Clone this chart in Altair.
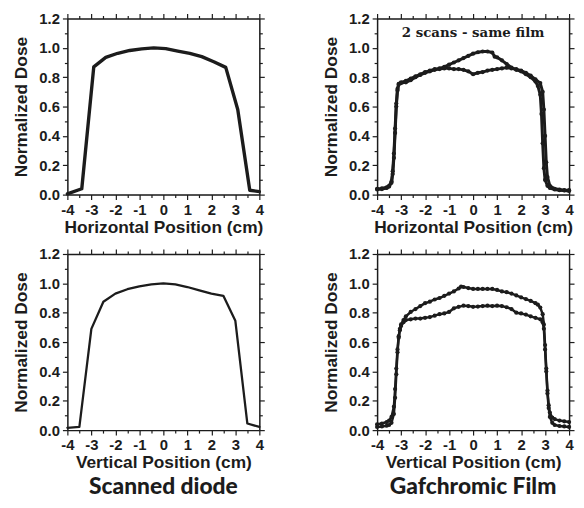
import altair as alt
import pandas as pd

INK = "#1c1c1c"
FONT = "Liberation Sans"

# ---- Scanned diode ----
diode_h_x = [-4.0, -3.4, -2.9, -2.4, -1.9, -1.4, -0.9, -0.4, 0.1, 0.6, 1.1, 1.6, 2.1, 2.6, 3.1, 3.6, 4.0]
diode_h_y = [0.005, 0.04, 0.87, 0.935, 0.963, 0.982, 0.993, 1.0, 0.995, 0.978, 0.962, 0.94, 0.905, 0.867, 0.58, 0.03, 0.02]

diode_v_x = [-4.0, -3.5, -3.0, -2.5, -2.0, -1.5, -1.0, -0.5, 0.0, 0.5, 1.0, 1.5, 2.0, 2.5, 3.0, 3.5, 4.0]
diode_v_y = [0.016, 0.022, 0.69, 0.875, 0.93, 0.96, 0.98, 0.993, 1.0, 0.993, 0.975, 0.952, 0.93, 0.915, 0.745, 0.045, 0.022]

# ---- Gafchromic film, horizontal (2 scans) ----
film_h1_x = [-4.0, -3.8, -3.6, -3.5, -3.4, -3.35, -3.3, -3.25, -3.2, -3.15, -3.1, -3.0, -2.8, -2.6, -2.4,
             -2.2, -2.0, -1.8, -1.6, -1.4, -1.2, -1.0, -0.8, -0.6, -0.4, -0.2, 0.0, 0.2, 0.4, 0.6,
             0.8, 0.9, 1.0, 1.2, 1.4, 1.6, 1.8, 2.0, 2.2, 2.4, 2.6, 2.7, 2.8, 2.85, 2.9,
             2.95, 3.0, 3.1, 3.2, 3.4, 3.6, 3.8, 4.0]
film_h1_y = [0.04, 0.042, 0.05, 0.06, 0.09, 0.16, 0.28, 0.45, 0.62, 0.72, 0.755, 0.765, 0.775, 0.79, 0.805,
             0.82, 0.835, 0.845, 0.855, 0.86, 0.87, 0.885, 0.90, 0.915, 0.93, 0.945, 0.96, 0.97, 0.975, 0.975,
             0.968, 0.94, 0.935, 0.915, 0.89, 0.865, 0.85, 0.84, 0.82, 0.80, 0.77, 0.74, 0.68, 0.55, 0.35,
             0.18, 0.10, 0.06, 0.045, 0.035, 0.03, 0.028, 0.025]

film_h2_x = [-4.0, -3.8, -3.6, -3.5, -3.4, -3.35, -3.3, -3.25, -3.2, -3.15, -3.1, -3.0, -2.8, -2.6, -2.4,
             -2.2, -2.0, -1.8, -1.6, -1.4, -1.2, -1.0, -0.8, -0.6, -0.4, -0.2, 0.0, 0.2, 0.4, 0.6,
             0.8, 1.0, 1.2, 1.4, 1.6, 1.8, 2.0, 2.2, 2.4, 2.6, 2.8, 2.9, 2.95, 3.0, 3.05,
             3.1, 3.2, 3.4, 3.6, 3.8, 4.0]
film_h2_y = [0.035, 0.038, 0.045, 0.055, 0.08, 0.14, 0.25, 0.42, 0.60, 0.71, 0.75, 0.76, 0.765, 0.78, 0.80,
             0.815, 0.83, 0.84, 0.85, 0.855, 0.86, 0.86, 0.855, 0.855, 0.85, 0.84, 0.82, 0.83, 0.835, 0.845,
             0.85, 0.855, 0.86, 0.865, 0.86, 0.855, 0.845, 0.83, 0.81, 0.785, 0.76, 0.70, 0.58, 0.40, 0.22,
             0.12, 0.06, 0.04, 0.035, 0.03, 0.03]

# ---- Gafchromic film, vertical (2 scans) ----
film_v1_x = [-4.0, -3.8, -3.6, -3.5, -3.4, -3.3, -3.25, -3.2, -3.15, -3.1, -3.05, -3.0, -2.9, -2.8, -2.6,
             -2.4, -2.2, -2.0, -1.8, -1.6, -1.4, -1.2, -1.0, -0.8, -0.6, -0.5, -0.4, -0.2, 0.0, 0.2,
             0.4, 0.6, 0.8, 1.0, 1.2, 1.4, 1.6, 1.8, 2.0, 2.2, 2.4, 2.6, 2.7, 2.8, 2.9,
             2.95, 3.0, 3.05, 3.1, 3.15, 3.2, 3.3, 3.4, 3.6, 3.8, 4.0]
film_v1_y = [0.04, 0.045, 0.055, 0.065, 0.09, 0.16, 0.28, 0.42, 0.55, 0.64, 0.69, 0.72, 0.75, 0.775, 0.805,
             0.825, 0.845, 0.865, 0.875, 0.89, 0.90, 0.915, 0.93, 0.945, 0.965, 0.978, 0.975, 0.968, 0.962, 0.962,
             0.962, 0.962, 0.962, 0.955, 0.945, 0.94, 0.93, 0.918, 0.905, 0.893, 0.88, 0.865, 0.855, 0.835, 0.79,
             0.72, 0.58, 0.42, 0.27, 0.17, 0.12, 0.085, 0.075, 0.065, 0.06, 0.055]

film_v2_x = [-4.0, -3.8, -3.6, -3.5, -3.4, -3.3, -3.25, -3.2, -3.15, -3.1, -3.05, -3.0, -2.9, -2.8, -2.6,
             -2.4, -2.2, -2.0, -1.8, -1.6, -1.4, -1.2, -1.0, -0.8, -0.6, -0.4, -0.2, 0.0, 0.2, 0.4,
             0.6, 0.8, 1.0, 1.2, 1.4, 1.6, 1.8, 2.0, 2.2, 2.4, 2.6, 2.8, 2.9, 2.95, 3.0,
             3.05, 3.1, 3.15, 3.2, 3.3, 3.4, 3.6, 3.8, 4.0]
film_v2_y = [0.022, 0.025, 0.03, 0.035, 0.05, 0.11, 0.22, 0.38, 0.53, 0.63, 0.68, 0.71, 0.735, 0.75, 0.755,
             0.76, 0.76, 0.765, 0.77, 0.78, 0.79, 0.795, 0.805, 0.83, 0.84, 0.848, 0.845, 0.84, 0.842, 0.845,
             0.848, 0.845, 0.848, 0.845, 0.837, 0.825, 0.80, 0.795, 0.787, 0.775, 0.765, 0.755, 0.735, 0.69, 0.55,
             0.40, 0.25, 0.15, 0.09, 0.05, 0.035, 0.028, 0.025, 0.022]

# ---- axes / labels ----
x_ticks = [-4, -3.5, -3, -2.5, -2, -1.5, -1, -0.5, 0, 0.5, 1, 1.5, 2, 2.5, 3, 3.5, 4]
y_ticks = [0.0, 0.1, 0.2, 0.3, 0.4, 0.5, 0.6, 0.7, 0.8, 0.9, 1.0, 1.1, 1.2]
x_domain = [-4, 4]
y_domain = [0, 1.2]
y_title = "Normalized Dose"
x_title_h = "Horizontal Position (cm)"
x_title_v = "Vertical Position (cm)"
note_text = ["2 scans - same film"]
note_x = [0]
note_y = [1.1]
col_titles = ["Scanned diode", "Gafchromic Film"]

X_MAJOR = "round(datum.value*2) % 2 === 0"
Y_MAJOR = "round(datum.value*10) % 2 === 0"

W, H = 194, 178

common = dict(
    grid=False, domainColor=INK, domainWidth=1.5, tickColor=INK, tickWidth=1.2,
    labelFont=FONT, labelFontWeight="bold", labelFontSize=15, labelColor=INK,
    titleFont=FONT, titleFontWeight="bold", titleFontSize=17.5, titleColor=INK,
    labelOverlap=False, labelFlush=False,
)


def xaxis_bottom(title):
    return alt.Axis(
        orient="bottom", values=x_ticks, title=title, titlePadding=1, labelPadding=3,
        tickSize={"condition": {"test": X_MAJOR, "value": 5}, "value": 3},
        labelExpr=f"{X_MAJOR} ? '' + datum.value : ''", **common)


def yaxis_left():
    return alt.Axis(
        orient="left", values=y_ticks, title=y_title, titlePadding=8, labelPadding=3,
        tickSize={"condition": {"test": Y_MAJOR, "value": 5}, "value": 3},
        labelExpr=f"{Y_MAJOR} ? format(datum.value, '.1f') : ''", **common)


def xaxis_top():
    return alt.Axis(
        orient="top", values=x_ticks, title=None, labels=False,
        tickSize={"condition": {"test": X_MAJOR, "value": 5}, "value": 3}, **common)


def yaxis_right():
    return alt.Axis(
        orient="right", values=y_ticks, title=None, labels=False,
        tickSize={"condition": {"test": Y_MAJOR, "value": 5}, "value": 3}, **common)


def panel(curves, x_title, stroke, points=False, note=False, bottom_title=None):
    df = pd.concat([pd.DataFrame({"x": xs, "y": ys, "scan": name}) for name, xs, ys in curves],
                   ignore_index=True)
    xs = alt.Scale(domain=x_domain, nice=False, zero=False)
    ys = alt.Scale(domain=y_domain, nice=False, zero=False)
    base = alt.Chart(df)
    layers = [
        base.mark_line(color=INK, strokeWidth=stroke, strokeJoin="round", strokeCap="round").encode(
            x=alt.X("x:Q", scale=xs, axis=xaxis_bottom(x_title)),
            y=alt.Y("y:Q", scale=ys, axis=yaxis_left()),
            detail="scan:N", order="x:Q")
    ]
    if points:
        layers.append(base.mark_circle(color=INK, size=18, opacity=1).encode(
            x=alt.X("x:Q", scale=xs, axis=None), y=alt.Y("y:Q", scale=ys, axis=None)))
    if note:
        ndf = pd.DataFrame({"x": note_x, "y": note_y, "t": note_text})
        layers.append(alt.Chart(ndf).mark_text(font="DejaVu Serif", fontWeight="bold", fontSize=13.5,
                                               color=INK, align="center", baseline="middle").encode(
            x=alt.X("x:Q", scale=xs, axis=None), y=alt.Y("y:Q", scale=ys, axis=None), text="t:N"))
    layers.append(base.mark_line(opacity=0).encode(
        x=alt.X("x:Q", scale=xs, axis=xaxis_top()),
        y=alt.Y("y:Q", scale=ys, axis=yaxis_right()),
        detail="scan:N"))
    ch = alt.layer(*layers).resolve_axis(x="independent", y="independent").properties(width=W, height=H)
    if bottom_title:
        ch = ch.properties(title=alt.TitleParams(
            text=bottom_title, orient="bottom", anchor="middle", frame="group",
            font="Lato", fontWeight=900, fontSize=23, color=INK, offset=5))
    return ch


p1 = panel([("d", diode_h_x, diode_h_y)], x_title_h, 3.4)
p2 = panel([("s1", film_h1_x, film_h1_y), ("s2", film_h2_x, film_h2_y)], x_title_h, 3.0, points=True, note=True)
p3 = panel([("d", diode_v_x, diode_v_y)], x_title_v, 2.3, bottom_title=col_titles[0])
p4 = panel([("s1", film_v1_x, film_v1_y), ("s2", film_v2_x, film_v2_y)], x_title_v, 2.5, points=True,
           bottom_title=col_titles[1])

chart = alt.vconcat(
    alt.hconcat(p1, p2, spacing=56),
    alt.hconcat(p3, p4, spacing=56),
    spacing=10,
).properties(
    padding={"left": 4, "top": 0, "right": 0, "bottom": -4}
).configure_view(stroke=None).configure(background="white")

chart.save("out.html", embed_options={"renderer": "svg", "actions": False})
